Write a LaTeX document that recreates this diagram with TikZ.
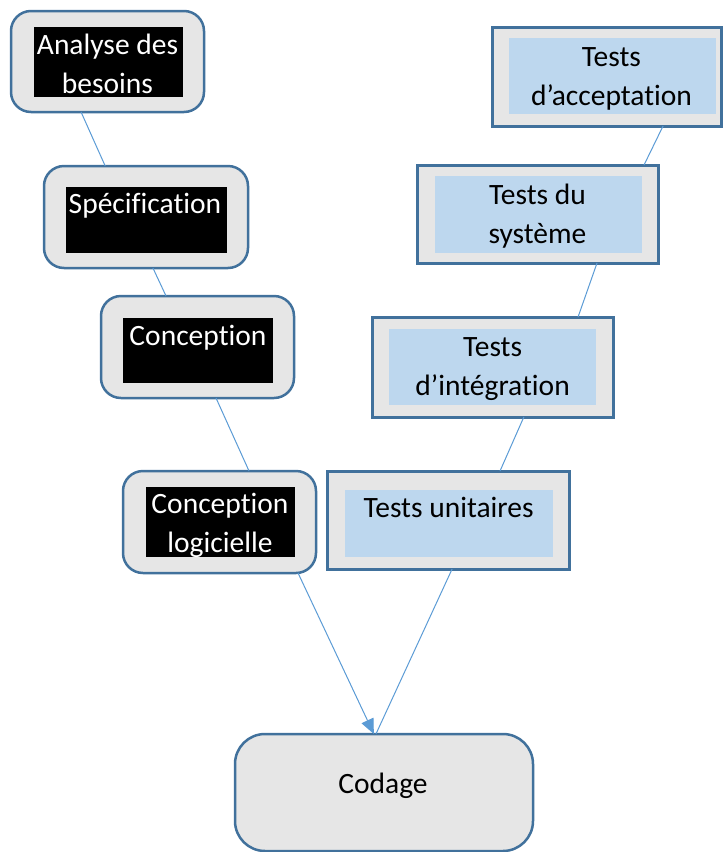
\documentclass[tikz,border=0pt]{standalone}
\usepackage{fontspec}
\setmainfont{Carlito}[Ligatures=NoCommon]
\usetikzlibrary{arrows.meta,calc}
\definecolor{boxgray}{HTML}{E6E6E6}
\definecolor{boxline}{HTML}{41719C}
\definecolor{innerblue}{HTML}{BDD7EE}
\definecolor{conn}{HTML}{5B9BD5}
\begin{document}
\begin{tikzpicture}[x=1pt,y=-1pt,
  leftbox/.style={draw=boxline, fill=boxgray, line width=2.5pt, rounded corners=20pt, inner sep=0pt, outer sep=0pt},
  rightbox/.style={draw=boxline, fill=boxgray, line width=3pt, inner sep=0pt, outer sep=0pt},
  blackin/.style={fill=black, inner sep=0pt, outer sep=0pt},
  bluein/.style={fill=innerblue, inner sep=0pt, outer sep=0pt},
  wtxt/.style={text=white, font=\fontsize{29.5}{38.5}\selectfont, align=center, inner sep=0pt, anchor=base},
  btxt/.style={text=black, font=\fontsize{29.5}{38.5}\selectfont, align=center, inner sep=0pt, anchor=base},
  link/.style={draw=conn, line width=1pt}]
\useasboundingbox (0,0) rectangle (723,852);

% left column
\node[leftbox, minimum width=193pt, minimum height=101pt] (an) at (107.5,61.5) {};
\node[blackin, minimum width=149pt, minimum height=70pt] (anin) at (108.5,62) {};
\node[wtxt] (antx) at (107.5,93) {Analyse des\\besoins};

\node[leftbox, minimum width=204pt, minimum height=102pt] (sp) at (146,217) {};
\node[blackin, minimum width=161pt, minimum height=66pt] (spin) at (146.5,220) {};
\node[wtxt] (sptx) at (145,213) {Spécification};

\node[leftbox, minimum width=193pt, minimum height=102pt] (co) at (197.5,347) {};
\node[blackin, minimum width=150pt, minimum height=65pt] (coin) at (198,350.5) {};
\node[wtxt] (cotx) at (198,345) {Conception};

\node[leftbox, minimum width=193pt, minimum height=102pt] (cl) at (219.5,522) {};
\node[blackin, minimum width=149pt, minimum height=70pt] (clin) at (220.5,522) {};
\node[wtxt] (cltx) at (220,552) {Conception\\logicielle};

% right column
\node[rightbox, minimum width=242pt, minimum height=98pt] (tu) at (448,520) {};
\node[bluein, minimum width=208pt, minimum height=67pt] (tuin) at (449,523.5) {};
\node[btxt] (tutx) at (448.6,517) {Tests unitaires};

\node[rightbox, minimum width=241pt, minimum height=100pt] (ti) at (492.5,367) {};
\node[bluein, minimum width=207pt, minimum height=76pt] (tiin) at (492.5,367) {};
\node[btxt] (titx) at (492.6,395) {Tests\\d’intégration};

\node[rightbox, minimum width=241pt, minimum height=98pt] (ts) at (537.5,214) {};
\node[bluein, minimum width=207pt, minimum height=77pt] (tsin) at (538.5,214.5) {};
\node[btxt] (tstx) at (537.5,243) {Tests du\\système};

\node[rightbox, minimum width=229pt, minimum height=99pt] (ta) at (606.5,76.5) {};
\node[bluein, minimum width=207pt, minimum height=76pt] (tain) at (612.5,76) {};
\node[btxt] (tatx) at (611.5,105) {Tests\\d’acceptation};

% bottom
\node[leftbox, rounded corners=30pt, minimum width=298pt, minimum height=117pt] (cd) at (384,792.5) {};
\node[btxt] (cdtx) at (383,793) {Codage};

% connectors
\draw[link] ($(an.south west)!0.363!(an.south east)$) -- ($(sp.north west)!0.30!(sp.north east)$);
\draw[link] ($(sp.south west)!0.534!(sp.south east)$) -- ($(co.north west)!0.337!(co.north east)$);
\draw[link] ($(co.south west)!0.596!(co.south east)$) -- ($(cl.north west)!0.653!(cl.north east)$);
\draw[link, -{Triangle[length=15pt,width=13pt]}] ($(cl.south west)!0.907!(cl.south east)$) -- ($(cd.north west)!0.466!(cd.north east)$);
\draw[link] ($(tu.south west)!0.517!(tu.south east)$) -- ($(cd.north west)!0.473!(cd.north east)$);
\draw[link] ($(ti.south west)!0.63!(ti.south east)$) -- ($(tu.north west)!0.715!(tu.north east)$);
\draw[link] ($(ts.south west)!0.747!(ts.south east)$) -- ($(ti.north west)!0.855!(ti.north east)$);
\draw[link] ($(ta.south west)!0.747!(ta.south east)$) -- ($(ts.north west)!0.942!(ts.north east)$);
\end{tikzpicture}
\end{document}
